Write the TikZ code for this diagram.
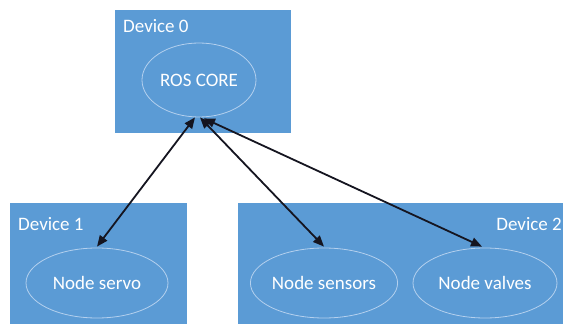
\documentclass[tikz,border=0pt]{standalone}
\usepackage{fontspec}
\setmainfont{Carlito}
\usetikzlibrary{shapes.geometric,arrows.meta,calc}
\definecolor{devblue}{HTML}{5B9BD5}
\definecolor{ringcol}{HTML}{B4D0EE}
\definecolor{linkcol}{HTML}{151520}
\tikzset{
  device/.style={rectangle, fill=devblue, draw=none, inner sep=0pt, anchor=north west},
  rosnode/.style={ellipse, draw=ringcol, line width=0.8pt, inner sep=0pt,
    text=white, font=\fontsize{19}{22}\selectfont},
  devlabel/.style={text=white, font=\fontsize{19}{22}\selectfont, inner sep=0pt},
  link/.style={linkcol, line width=1.8pt,
    {Triangle[length=11pt,width=9pt]}-{Triangle[length=11pt,width=9pt]}}
}
\begin{document}
\begin{tikzpicture}[x=1pt,y=-1pt]
  \useasboundingbox (0,0) rectangle (563,324);
  % device boxes
  \node[device, minimum width=176, minimum height=123] (dev0) at (115,10) {};
  \node[device, minimum width=177, minimum height=125] (dev1) at (10,203) {};
  \node[device, minimum width=330, minimum height=125] (dev2) at (238,203) {};
  \node[devlabel, anchor=base west] (lab0) at (123,32) {Device 0};
  \node[devlabel, anchor=base west] (lab1) at (18,230) {Device 1};
  \node[devlabel, anchor=base east] (lab2) at (562,230) {Device 2};
  % ROS nodes
  \node[rosnode, minimum width=114, minimum height=74] (core) at (199,80) {ROS CORE};
  \node[rosnode, minimum width=142, minimum height=70] (servo) at (97,283) {Node servo};
  \node[rosnode, minimum width=138, minimum height=70] (sensors) at (324,283) {Node sensors};
  \node[rosnode, minimum width=144, minimum height=70] (valves) at (485,283) {Node valves};
  % links to the core
  \draw[link] ($(core.south)+(-4,0)$) -- ($(servo.north)+(0,-1)$);
  \draw[link] ($(core.south)+(1,0)$) -- ($(sensors.north)+(0,-1)$);
  \draw[link] ($(core.south)+(5,1)$) -- ($(valves.north)+(-3,-1)$);
\end{tikzpicture}
\end{document}
